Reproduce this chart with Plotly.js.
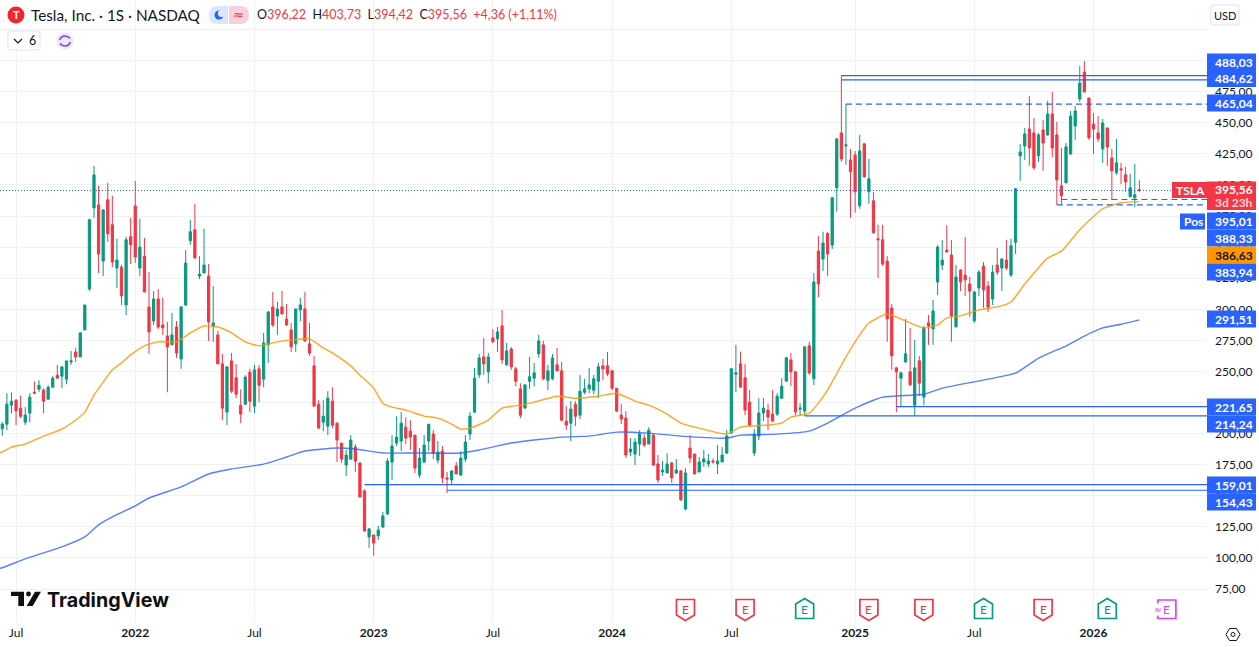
<!DOCTYPE html>
<html><head><meta charset="utf-8">
<script src="https://cdn.plot.ly/plotly-3.0.1.min.js"></script>
<style>html,body{margin:0;padding:0;background:#fff}#c{width:1259px;height:647px}</style>
</head><body><div id="c"></div>
<script>
const firstWeek = '2021-06-14';
const opens = [203.9,207.6,222.9,226.9,220.5,209.2,216.5,233.3,235.7,235,227.7,237.3,247,246.2,243.8,257.7,265.7,261.7,283.4,316.3,381.6,384,338.8,388.1,368,333.2,334,303.5,358.4,383.2,333.2,342.8,301.9,290.6,308.3,287.4,278.6,271.4,285.8,260.1,303.5,355.1,364,326.7,329.2,326.7,286.6,279.4,256.1,217.3,258.5,244.9,222.9,223.7,249.4,222.1,252.1,243.8,271.4,301.9,294.6,301.9,292.2,283.4,272.2,299.5,300.3,272.2,254.5,223.7,209.2,206,226.1,208.4,192.4,174.7,179.5,189.2,176.3,153.8,116.9,118.5,117.7,124.9,135.4,177.1,192.4,194,205.2,202,198.8,166.7,177.1,194,199.6,178.7,186,164.3,162.7,173.9,166.7,179.5,199.6,217.3,247.3,261.7,249.7,277,276.2,286.6,255.3,268.1,252.1,236,220.5,242.1,244.6,264.1,271.4,242.9,244.1,255.3,250.5,210,208.4,223.7,214.8,233.3,236,234.9,242.1,254.5,254.5,250.5,236.5,214.9,212.5,185.2,183.6,191.6,196.4,191.6,198.8,175.6,169.1,168.3,176.4,168.3,169.9,139.4,188.4,183.6,169.1,177.2,175.6,178,175.6,177.2,184.4,200.4,247.8,256.1,244.9,225.3,184.4,198,216.5,218.9,215.7,215.7,228.5,242.2,259.3,249.7,219.7,218.1,270.6,244.1,346.9,340.4,361,351.7,397.7,441.9,431.5,420.2,424.2,383.3,433.1,394.5,387.3,356.8,356,338.8,301.1,252.9,244.6,257.7,249.7,222.9,258.6,229.4,289.1,284.2,322,335.6,347.7,343.7,285.8,331.6,327.6,320.4,290.7,317.1,334.8,318.7,308.3,335.6,333.2,339.6,327.5,354,423.4,431.4,445.1,441.9,423.4,444.3,440.3,457.1,440.3,399.3,401.7,425,447.5,469.2,490.8,470,449.1,441.9,429,445.9,421.8,409.8,413,408.2,390.5,389.7,396.22];
const highs = [209.2,232.5,233,227.7,230.6,221.3,232.5,242.1,243,236.5,238.9,246.2,255.3,253.7,258.5,266.5,268.9,281.8,303.5,372.8,415.4,399.3,380,401.7,391.3,356.7,335.6,358.4,373.6,403.3,372.8,357.5,330,314.7,316.3,309.1,289.8,297,290.6,302.7,347.6,372,384.8,342.8,364.8,336.4,318.7,282.6,264.1,253.7,264.9,256.1,235.7,247,252.1,255.3,255.3,281,298.6,313.9,305.9,314.7,304.3,289,300.3,309.1,313.9,289,262.5,226.9,226.9,234.1,237.3,209.2,192.4,186.8,198.8,191.6,177.1,155.4,124.1,118.5,125.7,137,180.3,198.8,214,217.3,213.2,210.8,198.8,188.4,198.8,207.6,202.8,194,190,169.1,170.7,177.1,186,198.8,217.3,252.9,264.1,277,264.9,284.2,285.8,299.4,273,269.7,253.7,240.5,240,261.7,256.9,279.4,274.6,255.3,264.1,268.9,257.7,222.1,226.1,226.1,247.2,244.1,252.9,247.2,256.9,260.1,265.7,251.3,236.5,223.7,218.1,196.4,196.4,202.8,199.6,205.2,199.6,182.8,178,184.4,177.2,179.6,170.7,172.3,198.8,183.6,181.2,186.8,183.6,180,190.8,189.2,202.8,252.9,271.4,265.8,256.1,235,203.6,228.5,228.5,224,235,232.5,244.6,261.8,265,250.5,224.5,269.8,273.8,329.2,358.9,362.4,362.4,390.5,437.1,488.03,465.04,429,427.4,440.3,433.9,421,394.5,368,368,342.8,304.3,253.7,249.7,292.2,285,275.4,262.6,286.6,295.5,307.5,351.7,355.7,367.7,355.7,335.6,332.4,358.1,326,314.7,331.5,338,322.7,335.6,349.2,341.2,355.9,356.7,397.7,433,445.9,471.6,453.9,441.9,452.3,467.6,474.8,450.7,429.8,433.8,459.5,463.5,495.6,499.7,470,457.9,455.5,453.1,445.9,429,437.1,417.8,414.6,409,417,403.73];
const lows = [198.3,202.8,216.2,206.8,212.4,206.8,209.2,232.5,233.3,216.5,226.9,237.3,244.6,236.5,239.7,255.3,257.7,261.7,283.4,314.7,373.6,329.2,326.7,354.3,334,317.1,303.5,295.4,336.4,337.2,326.7,313.9,264.1,287.4,284.2,279.4,233.3,271.4,260.9,252.1,302.7,351.9,341.2,324.3,329.2,274.6,273.8,256.1,210.8,206.8,232.5,228.5,208.4,222.9,217.3,216.5,225.3,237.3,256.9,285.8,279.4,296.3,286.6,265.7,265.7,290.6,273.8,262.5,222.1,204.4,202,198.8,204.4,177.1,176.3,165.9,178.7,169.1,149,120.9,108.1,101.6,114.5,124.1,134.6,162.7,190,186,191.6,186.8,168.3,164.3,176.3,186,179.5,176,160.3,152.2,158.7,167.5,165.9,177.1,194.8,216.5,244.6,247.3,240.5,273,265.7,256.1,254.5,251.3,238.1,212.4,220.5,236,238.1,260.9,243,234.9,243,250.2,210,202.8,194,206,211.6,231.7,232.5,231.7,228.5,242.9,246.2,234.9,217.3,207.7,180.4,182,174.8,182,189.2,191.6,174,160.3,166,168.3,160.3,167.5,145.9,138.6,176.4,167.5,169.1,173.2,173.2,176,167.5,177.2,183.6,200.4,233.4,236.6,214.9,206,182,194.8,210,202.8,210,214.1,227.7,242.2,238.2,214.9,214.1,214.24,247,239,309.9,330.8,326.8,348.5,378.5,418.6,416.2,373.6,377.7,380.9,405.8,384.9,360.8,325.2,334.8,273.8,251.3,217.3,222.1,256.9,238.2,214.1,230.2,222.9,271.4,271.4,311.5,331.6,346.1,273.8,285.8,314.7,310.7,293.9,289.1,310.7,301.1,297.8,303.4,327.5,314.7,331.6,325.9,344.4,403.3,420.2,415.4,412.2,418.6,411.4,439.5,422.6,383.94,384.5,401.7,424.2,436.3,466.8,474.8,436.3,425,434.6,417.8,415.4,388.1,408.2,400.9,394.5,390.5,382.5,394.42];
const closes = [207.6,223.7,226.1,218.3,214,214.9,229.3,232.5,238.9,226.1,237.3,244.6,244.6,253.7,258.5,258.5,261.7,281,303.5,372,408.1,344.4,380,360.8,338,339.6,310.7,355.9,351.9,342,350,313.9,281.8,308.3,285.8,285,269.8,279.4,264.9,301.9,337.2,362.4,341.2,328.4,335.6,289.8,289,256.1,220.5,253.7,234.1,231.7,215.7,245.4,226.1,251.3,238.9,273,297.8,287.4,300.3,296.3,287.4,269.8,300.3,303.5,274.6,264.9,222.1,204.4,214,228.5,206.8,194.8,179.5,182.7,194.8,177.9,149,121.7,123.3,112,122.5,133.8,177.9,190,197.2,208.4,196.4,197.2,172.3,180.3,190.8,207.6,184.3,185.1,164.3,163.5,169.9,167.5,180.3,193.2,214,244.6,260.9,256.1,261.7,273.8,281.8,259.3,266.5,253.7,242.1,214.8,239.2,245.7,248.9,274.6,244.1,250.5,260.9,250.5,210.8,206.8,219.7,214,234.1,236,239.2,244.1,253.7,252.1,248.1,236.5,218.1,211.7,182.8,187.6,193.2,199.6,190.8,202.8,174.8,162.7,170.7,175.6,164.3,170.7,146.7,168.3,180.4,167.5,177.2,179.6,178,177.2,178,182.8,198,252.1,248.9,237.4,218.9,206.9,199.6,216.5,220.5,213.3,210,230.1,238.2,261,249.7,217.3,220.5,269.8,248.9,322,320.4,353.3,344.5,389.7,437.1,421,432.3,410.6,394.5,427.4,406.6,405,361.6,356,336.4,292.3,262.6,249.7,248.9,264.2,239.3,252.9,240.6,285,286.6,298.7,350.1,339.6,346.1,294.7,326,322,323.6,314.7,313.9,329.9,315.5,301.8,329.9,329.9,340.4,333.2,351.1,396.9,426.6,441.1,429.8,413.8,440.3,433.8,457.1,429.8,404.1,391.3,430.6,455.5,459.5,482,474.8,437.9,445.1,437.1,449.9,430.6,411.4,417.8,412.2,402.5,397.7,392.1,395.56];

const ma50Weeks = [-1,0,2,5,9,13,16,18,20,22,24,26,28,31,34,38,41,44,47,50,53,56,60,63,67,70,72,76,78,81,83,85,88,92,95,98,100,102,106,109,113,116,121,125,130,134,138,141,145,148,152,158,161,167,170,172,176,178,180,184,187,189,193,197,201,204,206,209,213,217,220,223,228,231,235,240,244,248];
const ma50Values = [184.6,185.2,189.2,191.6,198,203.6,210.9,217.3,230.9,241.4,251.3,256.9,263.3,270.6,273.8,273.8,281,286.6,285.8,281,273.8,270.6,273.8,275.4,276.2,269,265,254.5,247,236.6,224.5,221.3,218.9,214.1,212.5,207.7,203.6,204.4,210.9,220.5,222.9,225.3,230.1,228.5,230.1,232.5,226.1,222.9,215.7,208.5,204.4,199.6,205.2,206.9,208.5,213.3,216.5,224.5,235,261.7,279.4,289,296.3,290.6,285,287.4,293.1,294.7,299.5,301.9,305.9,320.3,341.2,346.8,364,380.9,385.7,386.63];
const ma200Weeks = [-1,0,5,13,18,21,24,29,32,39,45,50,57,62,66,73,77,83,90,100,104,111,122,128,134,141,148,158,161,169,176,180,186,192,201,205,215,221,226,229,232,236,240,244,248];
const ma200Values = [91.3,92.1,99.3,108.9,116.9,126.6,133,141.8,148.2,157.1,167.5,171.5,175.5,181.2,186,188.4,187.6,184.4,184.4,184.4,186.8,192.4,197.2,198,201.2,200.4,198,196.4,198.8,199.6,202,208.5,220.5,229.3,231.7,236.6,243.8,248.6,260.8,265.8,270.4,278.5,285,288,291.51];

const levelPrices = [488.03,484.62,465.04,388.33,383.94,221.65,214.24,159.01,154.43];
const levelWeeks  = [183,183,184,231,230,195,175,79,97];
const levelDashed = [false,false,true,true,true,false,false,false,false];
const lastPrice = 395.56;

const priceTicks = [75,100,125,150,175,200,225,250,275,300,325,350,375,400,425,450,475,500,525];
const hiddenPriceTicks = [500,525];
const timeTickWeeks = [3,29,55,81,107,133,159,186,212,238];
const timeTickLabels = ['Jul','<b>2022</b>','Jul','<b>2023</b>','Jul','<b>2024</b>','Jul','<b>2025</b>','Jul','<b>2026</b>'];

const earningsWeeks = [149,162,175,189,201,214,227,241,254];
const earningsKinds = ['miss','miss','beat','miss','miss','beat','miss','beat','next'];

const UP='#089981', DOWN='#F23645', BLUE='#2962FF', ORANGE='#FF9800', INK='#131722', GRID='#F0F1F4', MAG='#E040FB';
const PLOT_W=1207, PLOT_H=622, PITCH=4.585, X0=2.3;
const WEEK=7*864e5, START=Date.parse(firstWeek+'T00:00:00Z');
const iso = w => new Date(START+w*WEEK).toISOString().slice(0,10);
const isoT = w => new Date(START+w*WEEK).toISOString().slice(0,19).replace('T',' ');
const weeks = opens.map((_,i)=>iso(i));
const px = x => x/PLOT_W, py = y => 1-y/PLOT_H;
const fmt = v => v.toFixed(2).replace('.',',');
const FONT='Lato, "Noto Sans", sans-serif';

const traces=[
 {type:'scatter',mode:'lines',x:ma200Weeks.map(iso),y:ma200Values,line:{color:BLUE,width:1.4,shape:'spline',smoothing:0.5},opacity:.8,hoverinfo:'skip'},
 {type:'scatter',mode:'lines',x:ma50Weeks.map(iso),y:ma50Values,line:{color:ORANGE,width:1.4,shape:'spline',smoothing:0.5},opacity:.85,hoverinfo:'skip'},
 {type:'candlestick',x:weeks,open:opens,high:highs,low:lows,close:closes,
  width:3.0*864e5,whiskerwidth:0,hoverinfo:'skip',
  increasing:{line:{color:UP,width:1},fillcolor:UP},
  decreasing:{line:{color:DOWN,width:1},fillcolor:DOWN}}
];

const shapes=[], annotations=[];
const rect=(x0,y0,x1,y1,fill,stroke,w)=>shapes.push({type:'rect',xref:'paper',yref:'paper',x0:px(x0),x1:px(x1),y0:py(y0),y1:py(y1),fillcolor:fill,line:{color:stroke||fill,width:w||0},layer:'above'});
const circle=(cx,cy,r,fill,stroke,w)=>shapes.push({type:'circle',xref:'paper',yref:'paper',x0:px(cx-r),x1:px(cx+r),y0:py(cy+r),y1:py(cy-r),fillcolor:fill,line:{color:stroke||fill,width:w||0},layer:'above'});
const poly=(pts,fill,stroke,w,closed=true)=>shapes.push({type:'path',xref:'paper',yref:'paper',
  path:pts.map((p,i)=>(i?'L':'M')+px(p[0])+','+py(p[1])).join(' ')+(closed?' Z':''),fillcolor:fill||'rgba(0,0,0,0)',line:{color:stroke||fill,width:w||0},layer:'above'});
const text=(x,y,t,opt={})=>annotations.push(Object.assign({xref:'paper',yref:'paper',x:px(x),y:py(y),text:t,showarrow:false,xanchor:'left',yanchor:'middle',
  font:{family:FONT,size:12,color:INK},borderpad:0},opt));

levelPrices.forEach((p,k)=>shapes.push({type:'line',xref:'x',yref:'y',x0:isoT(levelWeeks[k]),x1:isoT(265),y0:p,y1:p,
  line:{color:BLUE,width:1.2,dash:levelDashed[k]?'6px,4px':'solid'},layer:'above'}));
shapes.push({type:'line',xref:'paper',yref:'y',x0:0,x1:1,y0:lastPrice,y1:lastPrice,line:{color:BLUE,width:1,dash:'1px,2px'},layer:'above'});

const tagRows=[[levelPrices[0],62,BLUE,'#fff'],[levelPrices[1],78.5,BLUE,'#fff'],[levelPrices[2],103,BLUE,'#fff'],
 [395.01,221,BLUE,'#fff'],[levelPrices[3],238,BLUE,'#fff'],[ma50Values[ma50Values.length-1],255,'#FF9800',INK],[levelPrices[4],272,BLUE,'#fff'],
 [ma200Values[ma200Values.length-1],319,BLUE,'#fff'],[levelPrices[5],407,BLUE,'#fff'],[levelPrices[6],424,BLUE,'#fff'],[levelPrices[7],485,BLUE,'#fff'],[levelPrices[8],502,BLUE,'#fff']];
tagRows.forEach(r=>{rect(1207,r[1]-8.5,1256,r[1]+8.5,r[2]);text(1214,r[1]+.5,fmt(r[0]),{font:{family:FONT,size:12,color:r[3],weight:700}});});
rect(1207,181.5,1256,210,DOWN);
text(1214,189.5,fmt(lastPrice),{font:{family:FONT,size:12,color:'#fff',weight:700}});
text(1214,203,'3d 23h',{font:{family:FONT,size:12,color:'#FFD0D5',weight:700}});
rect(1172,182,1207,198,DOWN);
text(1175,190.5,'TSLA',{font:{family:FONT,size:12,color:'#fff',weight:700}});
rect(1180,213.5,1205,229.5,BLUE);
text(1183,221.5,'Pos',{font:{family:FONT,size:12,color:'#fff',weight:700}});

circle(16,15,8.5,'#F2252E');
text(16,15,'<b>T</b>',{xanchor:'center',font:{family:FONT,size:11,color:'#fff'}});
text(29.5,15,'Tesla, Inc. · 1S · NASDAQ',{font:{family:FONT,size:15.3,color:INK}});
shapes.push({type:'path',xref:'paper',yref:'paper',layer:'above',fillcolor:'#DBE6FF',line:{width:0},
 path:`M${px(228)},${py(6)} L${px(218)},${py(6)} Q${px(209)},${py(6)} ${px(209)},${py(15)} Q${px(209)},${py(24)} ${px(218)},${py(24)} L${px(228)},${py(24)} Z`});
shapes.push({type:'path',xref:'paper',yref:'paper',layer:'above',fillcolor:'#F8CFDC',line:{width:0},
 path:`M${px(229)},${py(6)} L${px(240)},${py(6)} Q${px(249)},${py(6)} ${px(249)},${py(15)} Q${px(249)},${py(24)} ${px(240)},${py(24)} L${px(229)},${py(24)} Z`});
circle(219,15,4.5,BLUE);
circle(221.5,13.5,3.6,'#DBE6FF');
text(238.5,14.5,'≈',{xanchor:'center',font:{family:'DejaVu Sans',size:13,color:DOWN}});
const sp=(c,t)=>`<span style="color:${c}">${t}</span>`;
text(256,15,`O${sp(DOWN,'396,22')}  H${sp(DOWN,'403,73')}  L${sp(DOWN,'394,42')}  C${sp(DOWN,'395,56')}  ${sp(DOWN,'+4,36 (+1,11%)')}`,{font:{family:FONT,size:12.5,color:INK}});
shapes.push({type:'path',xref:'paper',yref:'paper',layer:'above',fillcolor:'#fff',line:{color:'#E0E3EB',width:1},
 path:`M${px(10)},${py(31)} L${px(38)},${py(31)} Q${px(40)},${py(31)} ${px(40)},${py(33)} L${px(40)},${py(48)} Q${px(40)},${py(50)} ${px(38)},${py(50)} L${px(10)},${py(50)} Q${px(8)},${py(50)} ${px(8)},${py(48)} L${px(8)},${py(33)} Q${px(8)},${py(31)} ${px(10)},${py(31)} Z`});
poly([[14,39],[18,43],[22,39]],null,INK,1.2,false);
text(28,40.5,'6',{font:{family:FONT,size:12.5,color:INK}});
circle(65,41,8.5,'#EDE7FB');
shapes.push({type:'path',xref:'paper',yref:'paper',layer:'above',fillcolor:'rgba(0,0,0,0)',line:{color:'#7B3FE4',width:1.6},
 path:`M${px(59.8)},${py(40)} Q${px(61)},${py(36)} ${px(65)},${py(36)} Q${px(68)},${py(36)} ${px(70)},${py(38.5)} M${px(70.2)},${py(42)} Q${px(69)},${py(46)} ${px(65)},${py(46)} Q${px(62)},${py(46)} ${px(60)},${py(43.5)}`});
shapes.push({type:'path',xref:'paper',yref:'paper',layer:'above',fillcolor:'#fff',line:{color:'#E0E3EB',width:1},
 path:`M${px(1213)},${py(5)} L${px(1237)},${py(5)} Q${px(1239)},${py(5)} ${px(1239)},${py(7)} L${px(1239)},${py(23)} Q${px(1239)},${py(25)} ${px(1237)},${py(25)} L${px(1213)},${py(25)} Q${px(1211)},${py(25)} ${px(1211)},${py(23)} L${px(1211)},${py(7)} Q${px(1211)},${py(5)} ${px(1213)},${py(5)} Z`});
text(1225,15.5,'USD',{xanchor:'center',font:{family:FONT,size:11,color:INK}});

poly([[11,591.7],[24,591.7],[24,606],[18.3,606],[18.3,596],[11,596]],'#0F0F0F');
circle(28.5,594,2.4,'#0F0F0F');
poly([[35,591.7],[41,591.7],[32.7,606],[26.7,606]],'#0F0F0F');
text(45.5,599.5,'<b>TradingView</b>',{font:{family:'Inter, '+FONT,size:19.7,color:'#0F0F0F'}});

earningsWeeks.forEach((w,k)=>{
  const kind=earningsKinds[k], cx=X0+w*PITCH;
  const c = kind==='beat'?UP:kind==='miss'?DOWN:MAG;
  if(kind==='miss') poly([[cx-9,599.5],[cx+9,599.5],[cx+9,615],[cx,620.5],[cx-9,615]],'#fff',c,1.7);
  else if(kind==='beat') poly([[cx-9,618.5],[cx+9,618.5],[cx+9,604],[cx,598.5],[cx-9,604]],'#fff',c,1.7);
  else { poly([[cx-9,600],[cx+9,600],[cx+9,618.5],[cx-9,618.5]],'#fff',c,1.7);
         text(cx-9,609,'≈',{xanchor:'center',font:{family:'DejaVu Sans',size:10,color:c},bgcolor:'#fff'}); }
  annotations.push({xref:'x',yref:'paper',x:iso(w),y:py(609),text:'E',showarrow:false,xanchor:'center',yanchor:'middle',font:{family:FONT,size:12,color:c}});
});
poly([[1226,634.5],[1229.5,628.5],[1236.5,628.5],[1240,634.5],[1236.5,640.5],[1229.5,640.5]],null,INK,1);
circle(1233,634.5,2,'#fff',INK,1);

const layout={
 width:1259,height:647,margin:{l:0,r:52,t:0,b:25},paper_bgcolor:'#fff',plot_bgcolor:'#fff',showlegend:false,
 font:{family:FONT,size:12,color:INK},
 xaxis:{type:'date',range:[isoT(-X0/PITCH),isoT((PLOT_W-X0)/PITCH)],rangeslider:{visible:false},
   tickmode:'array',tickvals:timeTickWeeks.map(iso),ticktext:timeTickLabels,showgrid:true,gridcolor:GRID,gridwidth:1,
   zeroline:false,showline:false,ticks:'',ticklabelstandoff:2,tickfont:{family:FONT,size:12,color:INK}},
 yaxis:{type:'linear',side:'right',range:[75-33/1.2431,75+589/1.2431],tickmode:'array',tickvals:priceTicks,
   ticktext:priceTicks.map(v=>hiddenPriceTicks.includes(v)?'':fmt(v)),showgrid:true,gridcolor:GRID,gridwidth:1,
   zeroline:false,showline:false,ticks:'',ticklabelstandoff:7,tickfont:{family:FONT,size:12,color:INK}},
 shapes,annotations
};
Plotly.newPlot('c',traces,layout,{staticPlot:true,displayModeBar:false});
</script></body></html>
